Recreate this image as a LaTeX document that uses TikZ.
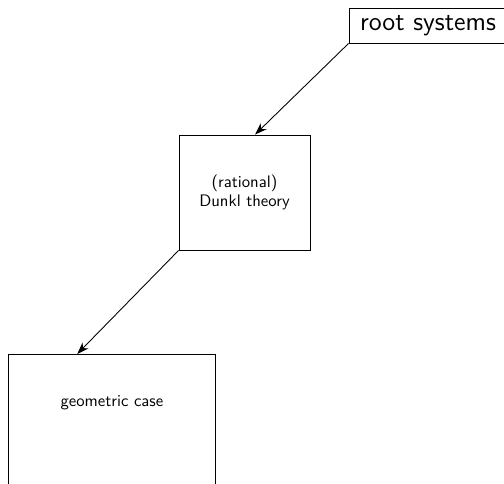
\documentclass[tikz,border=0pt]{standalone}
\usepackage{tikz}
\usetikzlibrary{calc,arrows.meta}

\begin{document}
\begin{tikzpicture}[
    box/.style={rectangle, draw, line width=0.5pt, align=center, font=\sffamily\fontsize{9.5}{11}\selectfont},
    arrow/.style={->, >={Stealth[length=2.4mm, width=1.7mm]}, line width=0.5pt}
]
\useasboundingbox (0,0) rectangle (10.08,-9.68);

% Boxes
\node[box, inner sep=0pt, minimum width=3.16cm, minimum height=0.7cm,
      font=\sffamily\fontsize{15}{18}\selectfont] (roots) at (8.56,-0.51) {root systems};
\node[box, minimum width=2.62cm, minimum height=2.3cm] (dunkl) at (4.89,-3.85) {(rational)\\Dunkl theory};
\node[box, anchor=north west, inner sep=0pt, minimum width=4.14cm,
      text height=1.04cm, text depth=2cm] (geom) at (0.16,-7.08) {geometric case};

% Arrows
\draw[arrow] (roots.south west) -- ($(dunkl.north west)!0.58!(dunkl.north east)$);
\draw[arrow] (dunkl.south west) -- ($(geom.north west)!0.333!(geom.north east)$);
\end{tikzpicture}
\end{document}
